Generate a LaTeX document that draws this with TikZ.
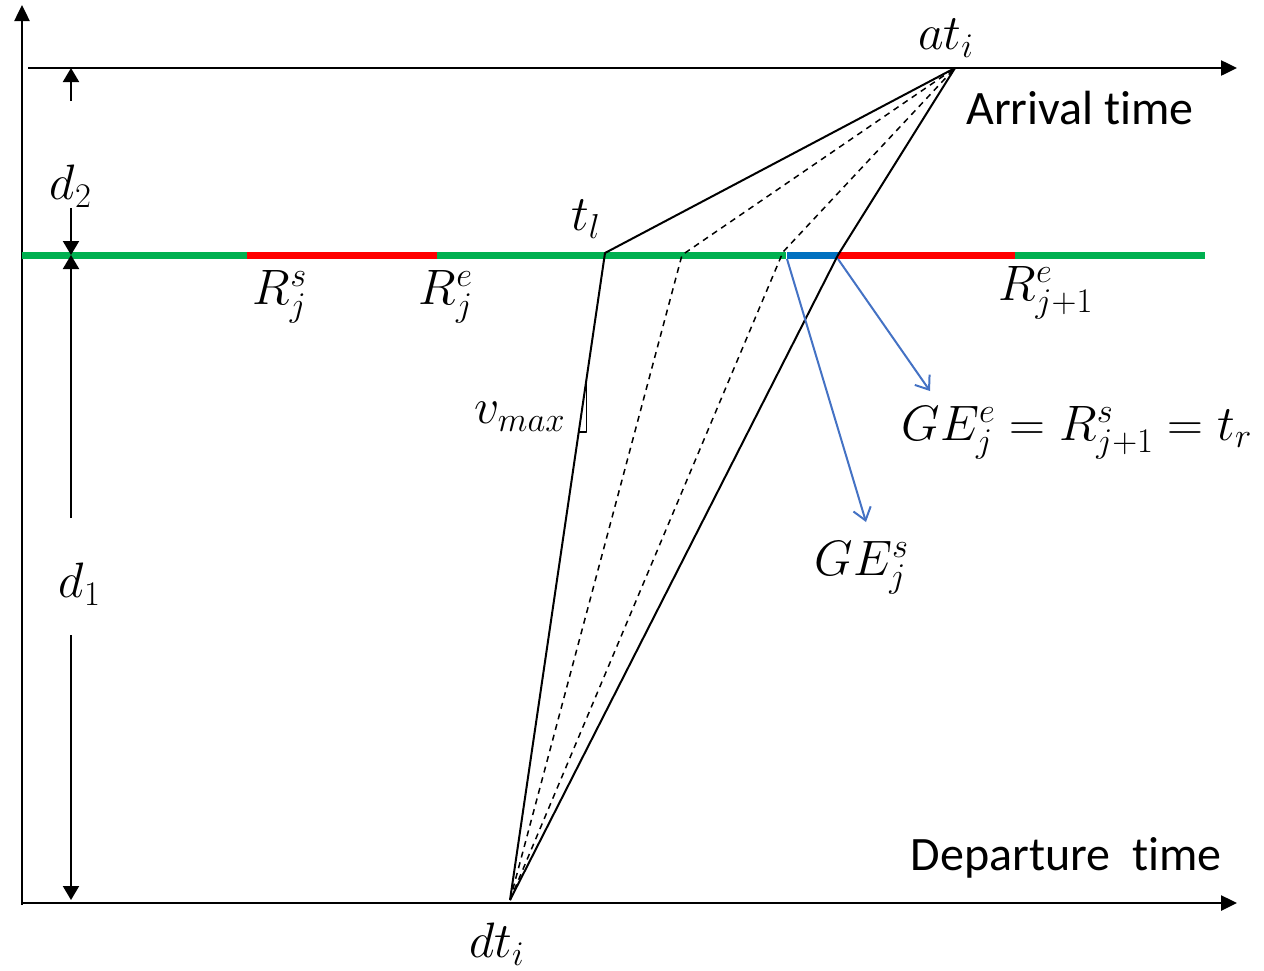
\documentclass[tikz,border=0pt]{standalone}
\usepackage{fontspec}
\setmainfont{Carlito}[Ligatures=NoCommon]
\usetikzlibrary{arrows.meta}

\definecolor{lanegreen}{RGB}{0,176,80}
\definecolor{lanered}{RGB}{255,0,0}
\definecolor{laneblue}{RGB}{0,112,192}
\definecolor{noteblue}{RGB}{68,114,196}

\begin{document}
\begin{tikzpicture}[x=0.5pt,y=-0.5pt,line join=round,
  axis/.style={line width=1.25pt,-{Triangle[length=8pt,width=7.5pt]}},
  dimarrow/.style={line width=1pt,-{Triangle[length=7pt,width=8pt]}},
  path/.style={line width=1pt},
  altpath/.style={line width=0.75pt,dash pattern=on 3pt off 2.5pt},
  note/.style={noteblue,line width=1pt,-{Straight Barb[length=6pt,width=9pt]}},
  lane/.style={line width=3.5pt},
  mathlbl/.style={font=\fontsize{23}{27}\selectfont},
  textlbl/.style={font=\fontsize{24}{28}\selectfont}]

  \useasboundingbox (0,0) rectangle (1264,970);

  % ---- reference values (pixels, y downwards) ----
  \def\axisX{22}        % vertical axis
  \def\dimX{71}         % dimension line for d1, d2
  \def\arrY{68}         % arrival time line
  \def\laneY{255}       % the road / signal line
  \def\depY{903}        % departure time line
  \def\lineEnd{1237}    % right end of the two time lines

  % ---- time axes ----
  \draw[axis] (\axisX,\depY+2) -- (\axisX,5);
  \draw[axis] (\axisX,\depY) -- (\lineEnd,\depY);
  \draw[axis] (28,\arrY) -- (\lineEnd,\arrY);
  \node[textlbl] (arrlbl) at (1080,108) {Arrival time};
  \node[textlbl] (deplbl) at (1066,858) {Departure\ \ time};

  % ---- signal line: green / red / green / blue / red / green ----
  \draw[lane,lanegreen] (\axisX,\laneY) -- (247,\laneY);
  \draw[lane,lanered]   (247,\laneY) -- (437,\laneY);
  \draw[lane,lanegreen] (437,\laneY) -- (786,\laneY);
  \draw[lane,laneblue]  (787,\laneY) -- (838,\laneY);
  \draw[lane,lanered]   (838,\laneY) -- (1015,\laneY);
  \draw[lane,lanegreen] (1015,\laneY) -- (1205,\laneY);

  \node[mathlbl] (rjs) at (280,297) {$R_j^s$};
  \node[mathlbl] (rje) at (446,297) {$R_j^e$};
  \node[mathlbl] (rjne) at (1046,293) {$R_{j+1}^e$};

  % ---- distances d2 and d1 ----
  \draw[dimarrow] (\dimX,101) -- (\dimX,\arrY);
  \draw[dimarrow] (\dimX,208) -- (\dimX,\laneY);
  \node[mathlbl] (dtwo) at (71,186) {$d_2$};
  \draw[dimarrow] (\dimX,518) -- (\dimX,\laneY);
  \draw[dimarrow] (\dimX,635) -- (\dimX,\depY-3);
  \node[mathlbl] (done) at (80,584) {$d_1$};

  % ---- trajectories ----
  \coordinate (dt) at (510,900);
  \coordinate (at) at (955,68);
  \coordinate (tl) at (605,253);
  \coordinate (ma) at (682,255);
  \coordinate (mb) at (783,252);
  \coordinate (tr) at (838,255);

  \draw[path] (dt) -- (tl) -- (at);
  \draw[altpath] (dt) -- (ma) -- (at);
  \draw[altpath] (dt) -- (mb) -- (at);
  \draw[path] (dt) -- (tr) -- (at);

  \node[mathlbl] (dtlbl) at (497,944) {$dt_i$};
  \node[mathlbl] (atlbl) at (946,38) {$at_i$};
  \node[mathlbl] (tllbl) at (586,219) {$t_l$};

  % slope marker for v_max
  \draw[line width=0.75pt] (586.6,378) -- (586.6,432) -- (578.7,432);
  \node[mathlbl] (vmax) at (520,417) {$v_{max}$};

  % ---- green extension notes ----
  \coordinate (ges) at (787,259);
  \coordinate (gee) at (838,259);
  \coordinate (gesend) at (866,522);
  \coordinate (geeend) at (930,391);
  \draw[note] (ges) -- (gesend);
  \draw[note] (gee) -- (geeend);
  \node[mathlbl] (geslbl) at (862,568) {$GE_j^s$};
  \node[mathlbl] (geelbl) at (1077,433) {$GE_j^e=R_{j+1}^s=t_r$};

\end{tikzpicture}
\end{document}
